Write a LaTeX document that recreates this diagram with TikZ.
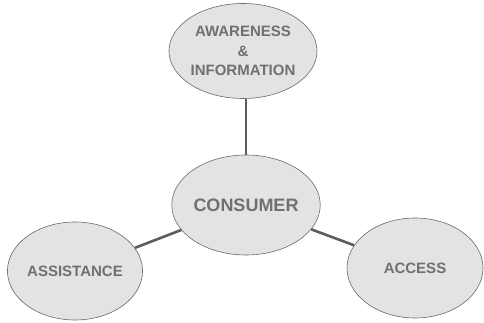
\documentclass[tikz,border=0pt]{standalone}
\usepackage{fontspec}
\setmainfont{Liberation Sans}
\usetikzlibrary{shapes.geometric}
\definecolor{bubble}{HTML}{E3E3E3}
\definecolor{rim}{HTML}{6A6A6A}
\definecolor{label}{HTML}{707070}
\definecolor{link}{HTML}{5C5C5C}

\begin{document}
\begin{tikzpicture}[x=1pt,y=1pt,
        bub/.style={ellipse,draw=rim,line width=0.6pt,fill=bubble,inner sep=0pt,
            text=label,font=\fontsize{15}{19.5}\selectfont\bfseries,align=center},
        wire/.style={draw=link,line width=2.6pt}]
        \useasboundingbox (0,0) rectangle (484,323);

        \node[bub,minimum width=130,minimum height=95] (aware) at (243,272) {AWARENESS\\\&\\INFORMATION}; %aware
        \node[bub,minimum width=143,minimum height=100,font=\fontsize{18}{22}\selectfont\bfseries] (consumer) at (246,118) {CONSUMER}; %consumer
        \node[bub,minimum width=130,minimum height=98] (assist) at (75,52) {ASSISTANCE}; %assist
        \node[bub,minimum width=136,minimum height=100] (access) at (415,55) {ACCESS}; %access

        \draw[wire] (consumer.north) -- (consumer.north |- aware.south);
        \draw[wire] (consumer) -- (assist);
        \draw[wire] (consumer) -- (access);
    \end{tikzpicture}
\end{document}
